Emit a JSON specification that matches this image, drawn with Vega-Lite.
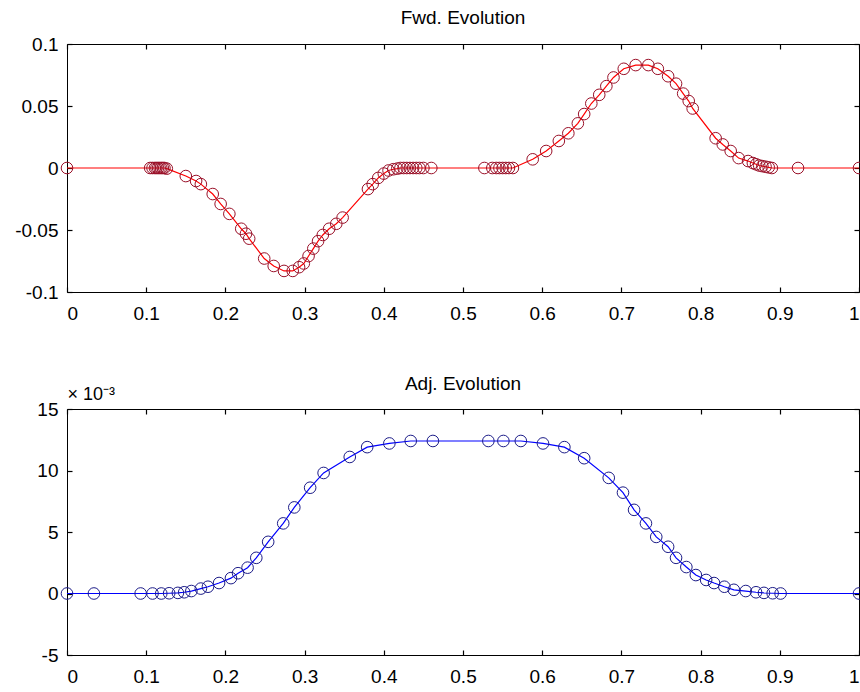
{
  "$schema": "https://vega.github.io/schema/vega-lite/v6.json",
  "background": "white",
  "padding": {"left": 14, "top": 8, "right": 0, "bottom": 0},
  "spacing": 50,
  "config": {
    "view": {"stroke": "black", "strokeWidth": 1},
    "font": "Liberation Sans",
    "title": {"fontSize": 19, "fontWeight": "normal", "font": "Liberation Sans", "color": "black", "offset": 7},
    "axis": {
      "grid": false,
      "domain": false,
      "zindex": 2,
      "tickColor": "black",
      "tickWidth": 1.2,
      "tickSize": -5,
      "labelFont": "Liberation Sans",
      "labelFontSize": 19,
      "labelColor": "black",
      "titleFont": "Liberation Sans",
      "titleFontWeight": "normal",
      "titleFontSize": 18,
      "titleColor": "black"
    }
  },
  "datasets": {
    "fwd": [
      {"x": 0, "y": 0},
      {"x": 0.105, "y": 0},
      {"x": 0.108, "y": 0},
      {"x": 0.111, "y": 0},
      {"x": 0.113, "y": 0},
      {"x": 0.115, "y": 0},
      {"x": 0.117, "y": 0},
      {"x": 0.119, "y": 0},
      {"x": 0.121, "y": 0},
      {"x": 0.123, "y": 0},
      {"x": 0.126, "y": -0.0005},
      {"x": 0.15, "y": -0.0065},
      {"x": 0.163, "y": -0.0105},
      {"x": 0.169, "y": -0.013},
      {"x": 0.184, "y": -0.021},
      {"x": 0.194, "y": -0.029},
      {"x": 0.205, "y": -0.037},
      {"x": 0.22, "y": -0.049},
      {"x": 0.226, "y": -0.053},
      {"x": 0.23, "y": -0.057},
      {"x": 0.249, "y": -0.073},
      {"x": 0.261, "y": -0.079},
      {"x": 0.274, "y": -0.083},
      {"x": 0.285, "y": -0.083},
      {"x": 0.293, "y": -0.08},
      {"x": 0.299, "y": -0.077},
      {"x": 0.305, "y": -0.071},
      {"x": 0.311, "y": -0.065},
      {"x": 0.317, "y": -0.059},
      {"x": 0.323, "y": -0.054},
      {"x": 0.331, "y": -0.049},
      {"x": 0.34, "y": -0.045},
      {"x": 0.348, "y": -0.04},
      {"x": 0.38, "y": -0.017},
      {"x": 0.386, "y": -0.013},
      {"x": 0.393, "y": -0.008},
      {"x": 0.4, "y": -0.0045},
      {"x": 0.406, "y": -0.002},
      {"x": 0.412, "y": -0.001},
      {"x": 0.417, "y": -0.0005},
      {"x": 0.421, "y": 0},
      {"x": 0.425, "y": 0},
      {"x": 0.429, "y": 0},
      {"x": 0.433, "y": 0},
      {"x": 0.437, "y": 0},
      {"x": 0.441, "y": 0},
      {"x": 0.445, "y": 0},
      {"x": 0.45, "y": 0},
      {"x": 0.46, "y": 0},
      {"x": 0.527, "y": 0},
      {"x": 0.537, "y": 0},
      {"x": 0.542, "y": 0},
      {"x": 0.546, "y": 0},
      {"x": 0.55, "y": 0},
      {"x": 0.554, "y": 0},
      {"x": 0.558, "y": 0},
      {"x": 0.563, "y": 0},
      {"x": 0.588, "y": 0.007},
      {"x": 0.605, "y": 0.0137},
      {"x": 0.621, "y": 0.0218},
      {"x": 0.633, "y": 0.028},
      {"x": 0.645, "y": 0.036},
      {"x": 0.653, "y": 0.0435},
      {"x": 0.662, "y": 0.052},
      {"x": 0.672, "y": 0.059},
      {"x": 0.681, "y": 0.066},
      {"x": 0.69, "y": 0.073},
      {"x": 0.703, "y": 0.08},
      {"x": 0.718, "y": 0.083},
      {"x": 0.734, "y": 0.083},
      {"x": 0.746, "y": 0.08},
      {"x": 0.759, "y": 0.074},
      {"x": 0.769, "y": 0.068},
      {"x": 0.778, "y": 0.06},
      {"x": 0.785, "y": 0.054},
      {"x": 0.79, "y": 0.048},
      {"x": 0.819, "y": 0.024},
      {"x": 0.828, "y": 0.019},
      {"x": 0.838, "y": 0.0137},
      {"x": 0.848, "y": 0.008},
      {"x": 0.86, "y": 0.0056},
      {"x": 0.866, "y": 0.004},
      {"x": 0.87, "y": 0.003},
      {"x": 0.874, "y": 0.002},
      {"x": 0.878, "y": 0.0015},
      {"x": 0.882, "y": 0.001},
      {"x": 0.886, "y": 0.0005},
      {"x": 0.89, "y": 0},
      {"x": 0.923, "y": 0},
      {"x": 1, "y": 0}
    ],
    "adj": [
      {"x": 0, "y": 0},
      {"x": 0.034, "y": 0},
      {"x": 0.093, "y": 0},
      {"x": 0.108, "y": 0},
      {"x": 0.119, "y": 0},
      {"x": 0.129, "y": 0.02},
      {"x": 0.14, "y": 0.05},
      {"x": 0.148, "y": 0.1},
      {"x": 0.157, "y": 0.2},
      {"x": 0.169, "y": 0.4},
      {"x": 0.178, "y": 0.55},
      {"x": 0.192, "y": 0.85},
      {"x": 0.207, "y": 1.25},
      {"x": 0.216, "y": 1.65},
      {"x": 0.228, "y": 2.1},
      {"x": 0.239, "y": 2.9},
      {"x": 0.254, "y": 4.2},
      {"x": 0.273, "y": 5.7},
      {"x": 0.287, "y": 7.0},
      {"x": 0.307, "y": 8.6},
      {"x": 0.324, "y": 9.8},
      {"x": 0.357, "y": 11.1},
      {"x": 0.379, "y": 11.9},
      {"x": 0.407, "y": 12.2},
      {"x": 0.434, "y": 12.4},
      {"x": 0.462, "y": 12.4},
      {"x": 0.532, "y": 12.4},
      {"x": 0.551, "y": 12.4},
      {"x": 0.573, "y": 12.4},
      {"x": 0.601, "y": 12.2},
      {"x": 0.628, "y": 11.9},
      {"x": 0.653, "y": 11.0},
      {"x": 0.684, "y": 9.4},
      {"x": 0.702, "y": 8.2},
      {"x": 0.716, "y": 6.8},
      {"x": 0.731, "y": 5.7},
      {"x": 0.744, "y": 4.6},
      {"x": 0.759, "y": 3.8},
      {"x": 0.769, "y": 2.9},
      {"x": 0.782, "y": 2.15},
      {"x": 0.794, "y": 1.5},
      {"x": 0.807, "y": 1.1},
      {"x": 0.817, "y": 0.85},
      {"x": 0.83, "y": 0.55},
      {"x": 0.842, "y": 0.3},
      {"x": 0.857, "y": 0.2},
      {"x": 0.87, "y": 0.1},
      {"x": 0.88, "y": 0.05},
      {"x": 0.891, "y": 0.02},
      {"x": 0.901, "y": 0},
      {"x": 1, "y": 0}
    ]
  },
  "vconcat": [
    {
      "title": "Fwd. Evolution",
      "width": 792,
      "height": 248,
      "data": {"name": "fwd"},
      "layer": [
        {
          "mark": {"type": "line", "color": "#ff0000", "strokeWidth": 1.2},
          "encoding": {
            "x": {"field": "x", "type": "quantitative", "scale": {"domain": [0, 1], "nice": false},
                  "axis": {"orient": "bottom", "title": null, "values": [0, 0.1, 0.2, 0.3, 0.4, 0.5, 0.6, 0.7, 0.8, 0.9, 1], "labelExpr": "'' + datum.value", "labelPadding": 17}},
            "y": {"field": "y", "type": "quantitative", "scale": {"domain": [-0.1, 0.1], "nice": false},
                  "axis": {"orient": "left", "title": null, "values": [-0.1, -0.05, 0, 0.05, 0.1], "labelExpr": "'' + datum.value", "labelPadding": 14}}
          }
        },
        {
          "mark": {"type": "point", "shape": "circle", "filled": false, "size": 135, "stroke": "#9a1028", "strokeWidth": 1, "opacity": 1},
          "encoding": {
            "x": {"field": "x", "type": "quantitative",
                  "axis": {"orient": "top", "title": null, "labels": false, "values": [0, 0.1, 0.2, 0.3, 0.4, 0.5, 0.6, 0.7, 0.8, 0.9, 1]}},
            "y": {"field": "y", "type": "quantitative",
                  "axis": {"orient": "right", "title": null, "labels": false, "values": [-0.1, -0.05, 0, 0.05, 0.1]}}
          }
        }
      ]
    },
    {
      "title": {"text": "Adj. Evolution", "offset": -9},
      "width": 792,
      "height": 246,
      "data": {"name": "adj"},
      "layer": [
        {
          "mark": {"type": "line", "color": "#0000ff", "strokeWidth": 1.2},
          "encoding": {
            "x": {"field": "x", "type": "quantitative", "scale": {"domain": [0, 1], "nice": false},
                  "axis": {"orient": "bottom", "title": null, "values": [0, 0.1, 0.2, 0.3, 0.4, 0.5, 0.6, 0.7, 0.8, 0.9, 1], "labelExpr": "'' + datum.value", "labelPadding": 17}},
            "y": {"field": "y", "type": "quantitative", "scale": {"domain": [-5, 15], "nice": false},
                  "axis": {"orient": "left", "title": "× 10⁻³", "titleAngle": 0, "titleAlign": "left", "titleBaseline": "bottom", "titleX": 0, "titleY": -6, "values": [-5, 0, 5, 10, 15], "labelExpr": "'' + datum.value", "labelPadding": 14}}
          }
        },
        {
          "mark": {"type": "point", "shape": "circle", "filled": false, "size": 135, "stroke": "#1c1c88", "strokeWidth": 1, "opacity": 1},
          "encoding": {
            "x": {"field": "x", "type": "quantitative",
                  "axis": {"orient": "top", "title": null, "labels": false, "values": [0, 0.1, 0.2, 0.3, 0.4, 0.5, 0.6, 0.7, 0.8, 0.9, 1]}},
            "y": {"field": "y", "type": "quantitative",
                  "axis": {"orient": "right", "title": null, "labels": false, "values": [-5, 0, 5, 10, 15]}}
          }
        }
      ]
    }
  ]
}
